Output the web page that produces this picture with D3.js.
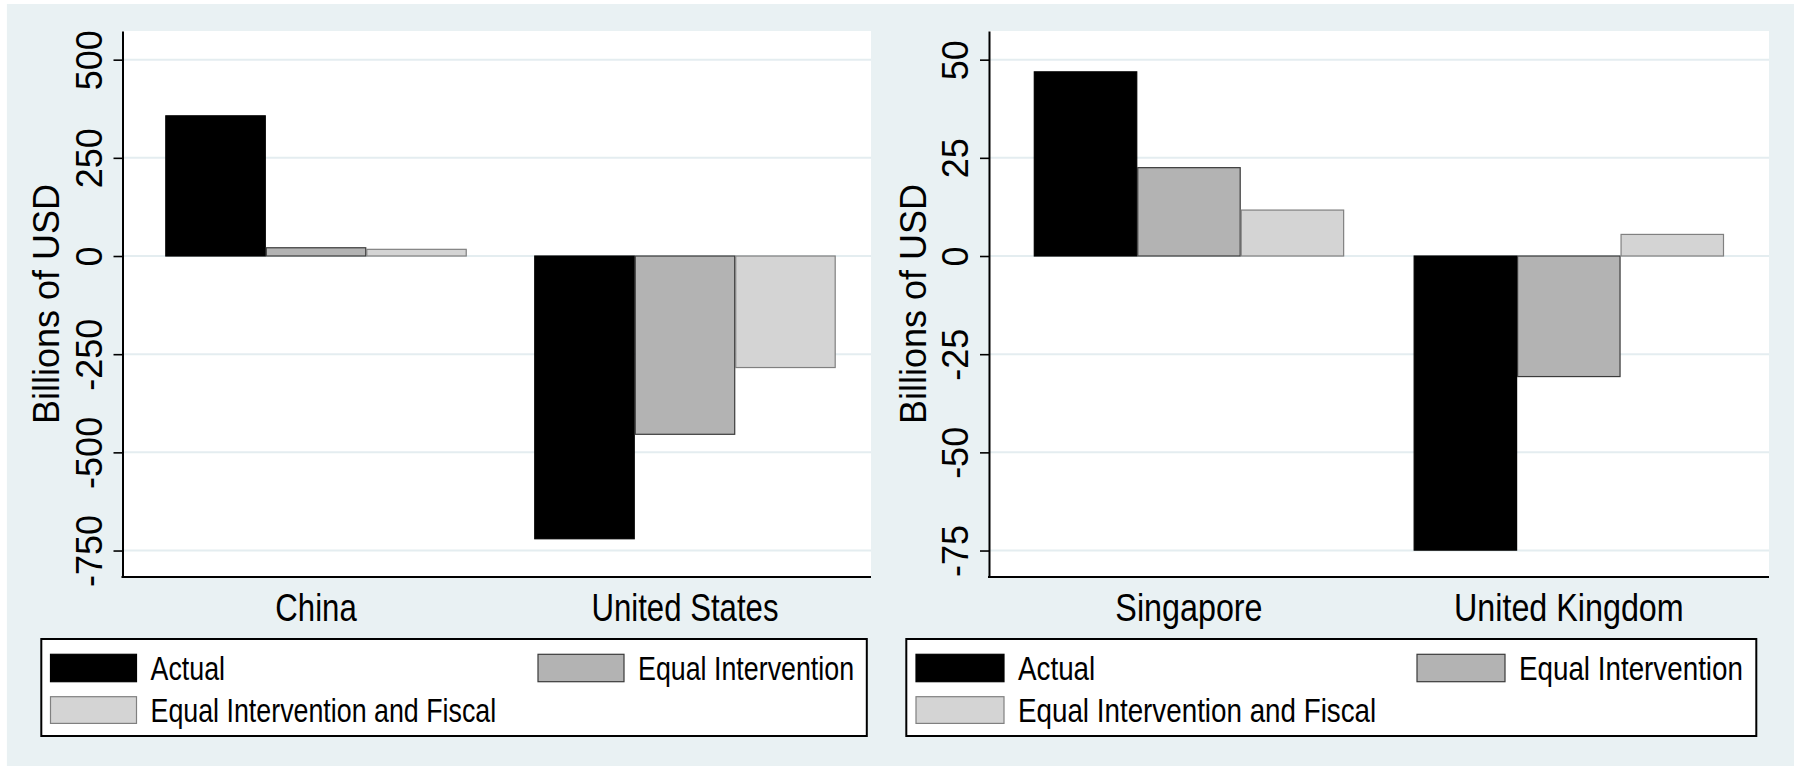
<!DOCTYPE html>
<html>
<head>
<meta charset="utf-8">
<script src="https://cdn.jsdelivr.net/npm/d3@7"></script>
<style>
  html, body { margin: 0; padding: 0; background: #ffffff; }
  svg { display: block; }
</style>
</head>
<body>
<svg id="chart" width="1795" height="768"></svg>
<script>
// ---------------- DATA ----------------
const leftCategories = ["China", "United States"];
const rightCategories = ["Singapore", "United Kingdom"];
const seriesNames = ["Actual", "Equal Intervention", "Equal Intervention and Fiscal"];
const actualLeft = [357, -720];
const equalLeft = [21, -454];
const fiscalLeft = [17, -284];
const actualRight = [46.9, -74.9];
const equalRight = [22.5, -30.7];
const fiscalRight = [11.7, 5.5];
const leftTicks = [500, 250, 0, -250, -500, -750];
const rightTicks = [50, 25, 0, -25, -50, -75];
const yTitle = "Billions of USD";

// ---------------- STYLE / LAYOUT ----------------
const seriesFill = ["#000000", "#b3b3b3", "#d4d4d4"];
const seriesStroke = ["#000000", "#3a3a3a", "#808080"];
const bgColor = "#e9f1f3";
const gridColor = "#e4edf0";
const FONT = "'Liberation Sans', Arial, Helvetica, sans-serif";

const plotY0 = 31, plotY1 = 577;

const panels = [
  {
    cats: leftCategories, series: [actualLeft, equalLeft, fiscalLeft], ticks: leftTicks,
    domain: [-817.4, 573],
    plotX0: 122.5, plotX1: 871, barsX0: 165.3, barsX1: 835.7,
    tickLabelX: -21, titleX: 59.3,
    legend: { x0: 41.3, x1: 866.8, sw1: 50.5, sw2: 538, swW: 86 },
    sx: 0.82
  },
  {
    cats: rightCategories, series: [actualRight, equalRight, fiscalRight], ticks: rightTicks,
    domain: [-81.74, 57.3],
    plotX0: 989, plotX1: 1769, barsX0: 1033.8, barsX1: 1724,
    tickLabelX: -21, titleX: 926,
    legend: { x0: 906.3, x1: 1756.3, sw1: 916, sw2: 1417, swW: 88 },
    sx: 0.85
  }
];

const svg = d3.select("#chart");

// outer graph region background
svg.append("rect")
  .attr("x", 6.9).attr("y", 4)
  .attr("width", 1794 - 6.9).attr("height", 766 - 4)
  .attr("fill", bgColor);

function narrowText(g, x, y, txt, size, sx, anchor) {
  g.append("g")
    .attr("transform", `translate(${x},${y}) scale(${sx},1)`)
    .append("text")
    .attr("x", 0).attr("y", 0)
    .attr("text-anchor", anchor)
    .attr("font-family", FONT)
    .attr("font-size", size)
    .attr("fill", "#000")
    .text(txt);
}

panels.forEach(p => {
  const g = svg.append("g");

  // plot region
  g.append("rect")
    .attr("x", p.plotX0).attr("y", plotY0)
    .attr("width", p.plotX1 - p.plotX0).attr("height", plotY1 - plotY0)
    .attr("fill", "#ffffff");

  const y = d3.scaleLinear().domain(p.domain).range([plotY1, plotY0]);
  const x0 = d3.scaleBand().domain(p.cats).range([p.barsX0, p.barsX1])
    .paddingInner(0.183).paddingOuter(0);
  const x1 = d3.scaleBand().domain(seriesNames).range([0, x0.bandwidth()]).padding(0);

  // gridlines
  g.append("g").selectAll("line").data(p.ticks).join("line")
    .attr("x1", p.plotX0).attr("x2", p.plotX1)
    .attr("y1", d => y(d)).attr("y2", d => y(d))
    .attr("stroke", gridColor).attr("stroke-width", 2);

  // bars
  const rows = [];
  p.cats.forEach((c, ci) => {
    seriesNames.forEach((s, si) => rows.push({ cat: c, s, si, v: p.series[si][ci] }));
  });
  g.append("g").selectAll("rect").data(rows).join("rect")
    .attr("x", d => x0(d.cat) + x1(d.s) + 0.5)
    .attr("width", x1.bandwidth() - 1)
    .attr("y", d => Math.min(y(d.v), y(0)))
    .attr("height", d => Math.abs(y(d.v) - y(0)))
    .attr("fill", d => seriesFill[d.si])
    .attr("stroke", d => seriesStroke[d.si])
    .attr("stroke-width", 1.2);

  // y axis
  const axis = d3.axisLeft(y).tickValues(p.ticks).tickSize(9).tickSizeOuter(0)
    .tickFormat(d => String(d));
  const ag = g.append("g").attr("transform", `translate(${p.plotX0},0)`).call(axis);
  ag.select(".domain").attr("stroke", "#000").attr("stroke-width", 2);
  ag.selectAll(".tick line").attr("stroke", "#000").attr("stroke-width", 1.6);
  ag.selectAll(".tick text")
    .attr("x", 0).attr("dy", null)
    .attr("text-anchor", "middle")
    .attr("transform", `translate(${p.tickLabelX},0) rotate(-90)`)
    .attr("font-family", FONT).attr("font-size", 36).attr("fill", "#000");

  // x axis line
  g.append("line")
    .attr("x1", p.plotX0 - 1).attr("x2", p.plotX1)
    .attr("y1", plotY1).attr("y2", plotY1)
    .attr("stroke", "#000").attr("stroke-width", 2.2);

  // category labels
  p.cats.forEach(c => {
    narrowText(g, x0(c) + x0.bandwidth() / 2, 621, c, 38, p.sx / 0.82 * 0.82, "middle");
  });

  // y title
  g.append("text")
    .attr("transform", `translate(${p.titleX},${(plotY0 + plotY1) / 2}) rotate(-90)`)
    .attr("text-anchor", "middle")
    .attr("font-family", FONT).attr("font-size", 36).attr("fill", "#000")
    .text(yTitle);

  // legend
  const L = p.legend;
  g.append("rect")
    .attr("x", L.x0).attr("y", 639)
    .attr("width", L.x1 - L.x0).attr("height", 736 - 639)
    .attr("fill", "#fff").attr("stroke", "#000").attr("stroke-width", 2);
  const items = [
    { si: 0, x: L.sw1, y: 654.3, h: 27.4 },
    { si: 1, x: L.sw2, y: 654.3, h: 27.4 },
    { si: 2, x: L.sw1, y: 696.7, h: 26.7 }
  ];
  items.forEach(it => {
    g.append("rect")
      .attr("x", it.x).attr("y", it.y)
      .attr("width", L.swW).attr("height", it.h)
      .attr("fill", seriesFill[it.si]).attr("stroke", seriesStroke[it.si]).attr("stroke-width", 1.2);
    narrowText(g, it.x + L.swW + 14, it.y + it.h / 2 + 11.7, seriesNames[it.si], 32.7, p.sx, "start");
  });
});
</script>
</body>
</html>
